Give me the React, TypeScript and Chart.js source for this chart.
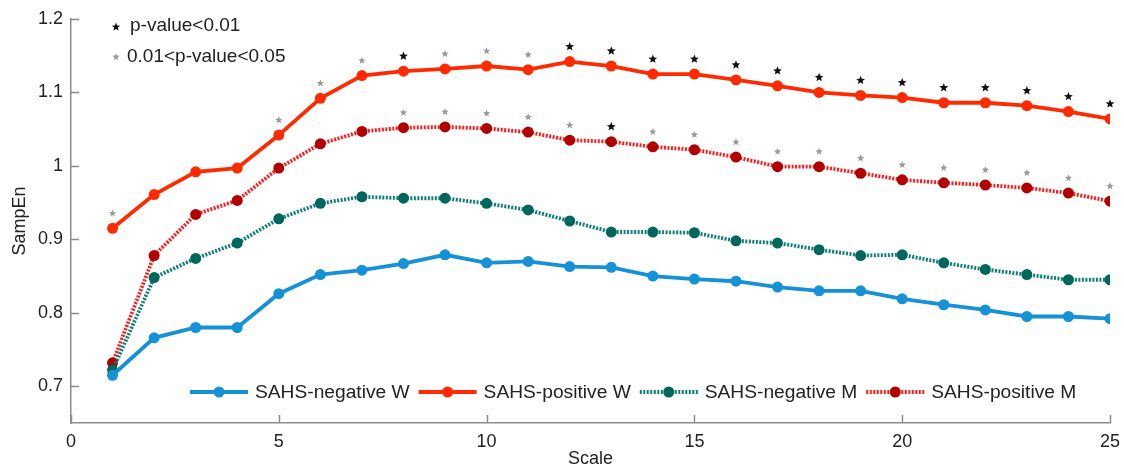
import React, { useEffect, useRef } from "react";
import { Chart, registerables } from "chart.js";

Chart.register(...registerables);

const scales = [1, 2, 3, 4, 5, 6, 7, 8, 9, 10, 11, 12, 13, 14, 15, 16, 17, 18, 19, 20, 21, 22, 23, 24, 25];
const negW = [0.715, 0.766, 0.780, 0.780, 0.826, 0.852, 0.858, 0.867, 0.879, 0.868, 0.870, 0.863, 0.862, 0.850, 0.846, 0.843, 0.835, 0.830, 0.830, 0.819, 0.811, 0.804, 0.795, 0.795, 0.792];
const posW = [0.915, 0.961, 0.992, 0.997, 1.042, 1.092, 1.123, 1.129, 1.132, 1.136, 1.131, 1.142, 1.136, 1.125, 1.125, 1.117, 1.109, 1.100, 1.096, 1.093, 1.086, 1.086, 1.082, 1.074, 1.064];
const negM = [0.722, 0.848, 0.874, 0.895, 0.928, 0.949, 0.958, 0.956, 0.956, 0.949, 0.940, 0.925, 0.910, 0.910, 0.909, 0.898, 0.895, 0.886, 0.878, 0.879, 0.868, 0.859, 0.852, 0.845, 0.845];
const posM = [0.732, 0.878, 0.934, 0.953, 0.997, 1.030, 1.047, 1.052, 1.053, 1.051, 1.046, 1.035, 1.033, 1.026, 1.022, 1.012, 0.999, 0.999, 0.990, 0.981, 0.977, 0.974, 0.970, 0.963, 0.952];
// significance: 0 none, 1 = 0.01<p<0.05 (gray), 2 = p<0.01 (black)
const sigW = [1, 0, 0, 0, 1, 1, 1, 2, 1, 1, 1, 2, 2, 2, 2, 2, 2, 2, 2, 2, 2, 2, 2, 2, 2];
const sigM = [0, 0, 0, 0, 0, 0, 0, 1, 1, 1, 1, 1, 2, 1, 1, 1, 1, 1, 1, 1, 1, 1, 1, 1, 1];
const seriesLabels = ["SAHS-negative W", "SAHS-positive W", "SAHS-negative M", "SAHS-positive M"];
const xTicks = [0, 5, 10, 15, 20, 25];
const yTicks = [0.7, 0.8, 0.9, 1.0, 1.1, 1.2];
const sigLegend = ["p-value<0.01", "0.01<p-value<0.05"];

const FONT = '"Liberation Sans", Arial, Helvetica, sans-serif';
const TEXT = "#222222";
const AXIS = "#8c8c8c";
const STAR_BLACK = "#111111";
const STAR_GRAY = "#9a9a9a";

function drawStar(ctx: CanvasRenderingContext2D, x: number, y: number, R: number, color: string) {
  const r = R * 0.45;
  ctx.save();
  ctx.beginPath();
  for (let i = 0; i < 10; i++) {
    const ang = -Math.PI / 2 + (i * Math.PI) / 5;
    const rad = i % 2 === 0 ? R : r;
    const px = x + rad * Math.cos(ang);
    const py = y + rad * Math.sin(ang);
    if (i === 0) ctx.moveTo(px, py);
    else ctx.lineTo(px, py);
  }
  ctx.closePath();
  ctx.fillStyle = color;
  ctx.fill();
  ctx.restore();
}

const overlay = {
  id: "overlay",
  afterDatasetsDraw(chart: any) {
    const ctx: CanvasRenderingContext2D = chart.ctx;
    const xs = chart.scales.x;
    const ys = chart.scales.y;
    const area = chart.chartArea;

    // inward ticks
    ctx.save();
    ctx.strokeStyle = AXIS;
    ctx.lineWidth = 1.5;
    ctx.beginPath();
    xTicks.forEach((v) => {
      const px = Math.round(xs.getPixelForValue(v)) + 0.5;
      ctx.moveTo(px, area.bottom);
      ctx.lineTo(px, area.bottom - 8);
    });
    yTicks.forEach((v) => {
      const py = Math.round(ys.getPixelForValue(v)) + 0.5;
      ctx.moveTo(area.left, py);
      ctx.lineTo(area.left + 8, py);
    });
    ctx.stroke();
    ctx.restore();

    // significance stars
    const starFor = (vals: number[], sig: number[]) => {
      vals.forEach((v, i) => {
        if (!sig[i]) return;
        const px = xs.getPixelForValue(scales[i]);
        const py = ys.getPixelForValue(v) - 15;
        if (sig[i] === 2) drawStar(ctx, px, py, 4.6, STAR_BLACK);
        else drawStar(ctx, px, py, 3.8, STAR_GRAY);
      });
    };
    starFor(posW, sigW);
    starFor(posM, sigM);

    // top-left significance legend
    ctx.save();
    ctx.font = `19px ${FONT}`;
    ctx.fillStyle = TEXT;
    ctx.textBaseline = "middle";
    ctx.textAlign = "left";
    drawStar(ctx, 116, 27, 4.4, STAR_BLACK);
    ctx.fillText(sigLegend[0], 130, 26);
    drawStar(ctx, 116, 57, 3.8, STAR_GRAY);
    ctx.fillText(sigLegend[1], 127, 57);
    ctx.restore();

    // bottom series legend
    ctx.save();
    ctx.font = `19.2px ${FONT}`;
    ctx.textBaseline = "middle";
    ctx.textAlign = "left";
    let x = 190;
    const y = 392;
    chart.data.datasets.forEach((ds: any) => {
      ctx.save();
      ctx.strokeStyle = ds.borderColor;
      ctx.lineWidth = ds.borderWidth;
      ctx.setLineDash(ds.borderDash || []);
      ctx.beginPath();
      ctx.moveTo(x, y);
      ctx.lineTo(x + 58, y);
      ctx.stroke();
      ctx.setLineDash([]);
      ctx.fillStyle = ds.pointBackgroundColor;
      ctx.beginPath();
      ctx.arc(x + 29, y, 5.5, 0, Math.PI * 2);
      ctx.fill();
      ctx.restore();
      ctx.fillStyle = TEXT;
      ctx.fillText(ds.label, x + 65, y + 1);
      x = x + 65 + ctx.measureText(ds.label).width + 9;
    });
    ctx.restore();
  },
};

export default function App() {
  const ref = useRef<HTMLCanvasElement | null>(null);

  useEffect(() => {
    if (!ref.current) return;
    const mk = (vals: number[]) => vals.map((v, i) => ({ x: scales[i], y: v }));
    const base = {
      borderWidth: 3.8,
      pointRadius: 5.5,
      pointBorderWidth: 0,
      pointHoverRadius: 5.5,
      tension: 0,
      fill: false,
    };
    const chart = new Chart(ref.current, {
      type: "line",
      data: {
        datasets: [
          { ...base, label: seriesLabels[0], data: mk(negW), borderColor: "#1591d8", backgroundColor: "#1591d8", pointBackgroundColor: "#1591d8" },
          { ...base, label: seriesLabels[1], data: mk(posW), borderColor: "#ff2a00", backgroundColor: "#ff2a00", pointBackgroundColor: "#ff2a00" },
          { ...base, label: seriesLabels[2], data: mk(negM), borderColor: "#0a7f76", backgroundColor: "#00675c", pointBackgroundColor: "#00675c", borderDash: [2, 1.5] },
          { ...base, label: seriesLabels[3], data: mk(posM), borderColor: "#ff1a1a", backgroundColor: "#b00000", pointBackgroundColor: "#b00000", borderDash: [2, 1.5] },
        ],
      },
      options: {
        animation: false,
        responsive: false,
        devicePixelRatio: 1,
        events: [],
        layout: { padding: { top: 19, right: 14, left: 0, bottom: 0 } },
        plugins: { legend: { display: false }, tooltip: { enabled: false } },
        scales: {
          x: {
            type: "linear",
            min: 0,
            max: 25,
            grid: { display: true, drawOnChartArea: false, drawTicks: false },
            border: { display: true, color: AXIS, width: 1.5 },
            afterBuildTicks: (s: any) => {
              s.ticks = xTicks.map((v) => ({ value: v }));
            },
            afterFit: (s: any) => {
              s.height = 47;
              s.paddingLeft = 0;
              s.paddingRight = 0;
            },
            ticks: { color: TEXT, font: { family: FONT, size: 18 }, padding: 8, maxRotation: 0 },
            title: { display: true, text: "Scale", color: TEXT, font: { family: FONT, size: 18 }, padding: { top: 0, bottom: 0 } },
          },
          y: {
            type: "linear",
            min: 0.65,
            max: 1.2,
            grid: { display: true, drawOnChartArea: false, drawTicks: false },
            border: { display: true, color: AXIS, width: 1.5 },
            afterBuildTicks: (s: any) => {
              s.ticks = yTicks.map((v) => ({ value: v }));
            },
            afterFit: (s: any) => {
              s.width = 71;
              s.paddingTop = 0;
              s.paddingBottom = 0;
            },
            ticks: {
              color: TEXT,
              font: { family: FONT, size: 18 },
              padding: 8,
              callback: (v: any) => String(Number(Number(v).toFixed(2))),
            },
            title: { display: true, text: "SampEn", color: TEXT, font: { family: FONT, size: 18 }, padding: { top: 9, bottom: 0 } },
          },
        },
      },
      plugins: [overlay],
    });
    return () => chart.destroy();
  }, []);

  return (
    <div style={{ position: "absolute", left: 0, top: 0, width: 1124, height: 470, background: "#fff" }}>
      <canvas ref={ref} width={1124} height={470} style={{ display: "block" }} />
    </div>
  );
}
